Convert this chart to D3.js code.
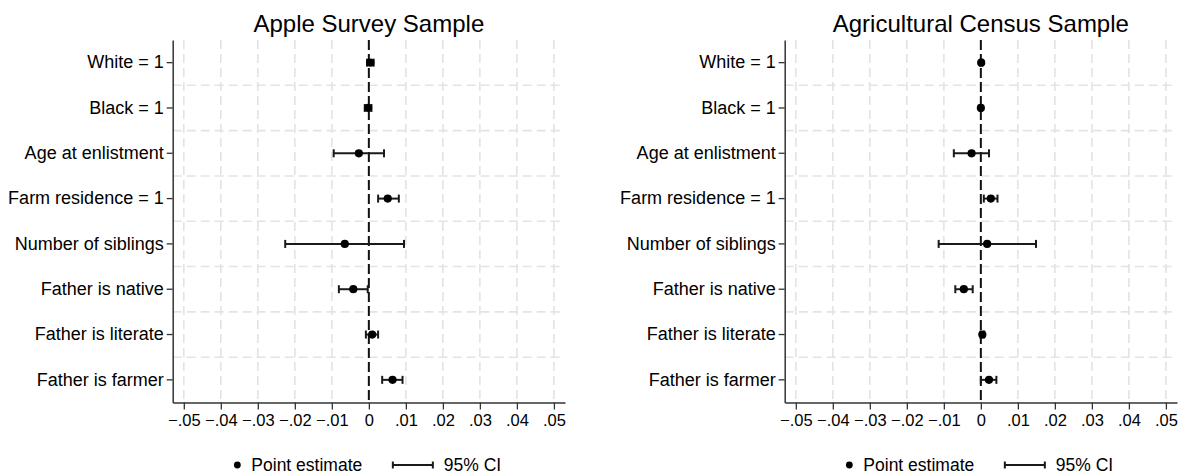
<!DOCTYPE html>
<html>
<head>
<meta charset="utf-8">
<script src="https://cdn.jsdelivr.net/npm/d3@7"></script>
<style>
    body { margin: 0; background: #fff; }
    svg text { font-family: "Liberation Sans", Arial, Helvetica, sans-serif; fill: #000; }
</style>
</head>
<body>
<script>
// ----- Data -----
const variables = [
    "White = 1",
    "Black = 1",
    "Age at enlistment",
    "Farm residence = 1",
    "Number of siblings",
    "Father is native",
    "Father is literate",
    "Father is farmer"
];

// Apple Survey Sample
const appleEst = [0.0004, -0.0002, -0.0027, 0.0051, -0.0065, -0.0042, 0.0009, 0.0064];
const appleLo  = [-0.0005, -0.0011, -0.0095, 0.0025, -0.0226, -0.0081, -0.0008, 0.0036];
const appleHi  = [0.0013, 0.0007, 0.0041, 0.0081, 0.0095, -0.0003, 0.0025, 0.0091];

// Agricultural Census Sample
const censusEst = [0.0001, 0.0000, -0.0025, 0.0027, 0.0017, -0.0046, 0.0004, 0.0022];
const censusLo  = [-0.0002, -0.0003, -0.0073, 0.0008, -0.0114, -0.0069, -0.0001, 0.0000];
const censusHi  = [0.0004, 0.0003, 0.0022, 0.0045, 0.0149, -0.0022, 0.0009, 0.0042];

const xTicks = [-0.05, -0.04, -0.03, -0.02, -0.01, 0, 0.01, 0.02, 0.03, 0.04, 0.05];
const xDomain = [-0.053, 0.053];

const panels = [
    { title: "Apple Survey Sample", est: appleEst, lo: appleLo, hi: appleHi, left: 172.7, right: 565 },
    { title: "Agricultural Census Sample", est: censusEst, lo: censusLo, hi: censusHi, left: 784.7, right: 1177 }
];

// ----- Layout -----
const Width = 1178, Height = 474;
const PlotTop = 40, PlotBottom = 402.5;
const fmt = d => d === 0 ? "0" : d3.format(".2f")(d).replace("0.", ".");

const svg = d3.select("body").append("svg")
    .attr("width", Width)
    .attr("height", Height);

const scaleY = d3.scaleBand()
    .domain(variables)
    .range([PlotTop, PlotBottom]);

panels.forEach(p => {
    const g = svg.append("g");
    const scaleX = d3.scaleLinear()
        .domain(xDomain)
        .range([p.left, p.right]);

    // grid: horizontal lines between rows
    g.append("g").selectAll("line")
        .data(variables.slice(1))
        .enter()
        .append("line")
            .attr("x1", p.left)
            .attr("x2", p.right)
            .attr("y1", d => scaleY(d))
            .attr("y2", d => scaleY(d))
            .attr("stroke", "#e3e3e3")
            .attr("stroke-width", 1.6)
            .attr("stroke-dasharray", "9,5");

    // grid: vertical lines at ticks
    g.append("g").selectAll("line")
        .data(xTicks.filter(d => d !== 0))
        .enter()
        .append("line")
            .attr("x1", d => scaleX(d))
            .attr("x2", d => scaleX(d))
            .attr("y1", PlotTop)
            .attr("y2", PlotBottom)
            .attr("stroke", "#e3e3e3")
            .attr("stroke-width", 1.6)
            .attr("stroke-dasharray", "9,5");

    // zero reference line
    g.append("line")
        .attr("x1", scaleX(0))
        .attr("x2", scaleX(0))
        .attr("y1", PlotTop)
        .attr("y2", PlotBottom)
        .attr("stroke", "#111")
        .attr("stroke-width", 2)
        .attr("stroke-dasharray", "10,4");

    // axes
    const bottomAxis = d3.axisBottom(scaleX)
        .tickValues(xTicks)
        .tickFormat(fmt)
        .tickSize(7)
        .tickPadding(5)
        .tickSizeOuter(0);
    const xg = g.append("g")
        .attr("transform", `translate(0, ${PlotBottom})`)
        .call(bottomAxis);
    xg.selectAll("text").style("font-size", "16.5px");

    const leftAxis = d3.axisLeft(scaleY)
        .tickSize(6)
        .tickPadding(3)
        .tickSizeOuter(0);
    const yg = g.append("g")
        .attr("transform", `translate(${p.left}, 0)`)
        .call(leftAxis);
    yg.selectAll("text").style("font-size", "18px");

    [xg, yg].forEach(a => {
        a.select(".domain").attr("stroke", "#333").attr("stroke-width", 1.5);
        a.selectAll(".tick line").attr("stroke", "#333").attr("stroke-width", 1.3);
    });

    // confidence intervals
    const rows = variables.map((v, i) => ({ v, est: p.est[i], lo: p.lo[i], hi: p.hi[i] }));
    const cy = d => scaleY(d.v) + scaleY.bandwidth() / 2;
    const capH = 4;

    const ci = g.append("g").attr("stroke", "#1a1a1a").attr("stroke-width", 2);
    ci.selectAll(".ci").data(rows).enter().append("line")
        .attr("x1", d => scaleX(d.lo)).attr("x2", d => scaleX(d.hi))
        .attr("y1", cy).attr("y2", cy);
    ci.selectAll(".capl").data(rows).enter().append("line")
        .attr("x1", d => scaleX(d.lo)).attr("x2", d => scaleX(d.lo))
        .attr("y1", d => cy(d) - capH).attr("y2", d => cy(d) + capH);
    ci.selectAll(".caph").data(rows).enter().append("line")
        .attr("x1", d => scaleX(d.hi)).attr("x2", d => scaleX(d.hi))
        .attr("y1", d => cy(d) - capH).attr("y2", d => cy(d) + capH);

    // point estimates
    g.append("g").selectAll("circle")
        .data(rows)
        .enter()
        .append("circle")
            .attr("cx", d => scaleX(d.est))
            .attr("cy", cy)
            .attr("r", 4.1)
            .attr("fill", "#000");

    // title
    g.append("text")
        .text(p.title)
        .attr("x", scaleX(0))
        .attr("y", 32)
        .attr("text-anchor", "middle")
        .style("font-size", "24px");

    // legend
    const lx = scaleX(0);
    const ly = 465;
    const legend = g.append("g");
    legend.append("circle")
        .attr("cx", lx - 131.5).attr("cy", ly).attr("r", 3.4).attr("fill", "#000");
    legend.append("text")
        .text("Point estimate")
        .attr("x", lx - 117.5).attr("y", ly).attr("dy", "0.35em")
        .style("font-size", "17.5px");
    legend.append("line")
        .attr("x1", lx + 24).attr("x2", lx + 64)
        .attr("y1", ly).attr("y2", ly)
        .attr("stroke", "#1a1a1a").attr("stroke-width", 2);
    [lx + 24, lx + 64].forEach(x => legend.append("line")
        .attr("x1", x).attr("x2", x)
        .attr("y1", ly - 3.5).attr("y2", ly + 3.5)
        .attr("stroke", "#1a1a1a").attr("stroke-width", 2));
    legend.append("text")
        .text("95% CI")
        .attr("x", lx + 75).attr("y", ly).attr("dy", "0.35em")
        .style("font-size", "17.5px");
});
</script>
</body>
</html>
